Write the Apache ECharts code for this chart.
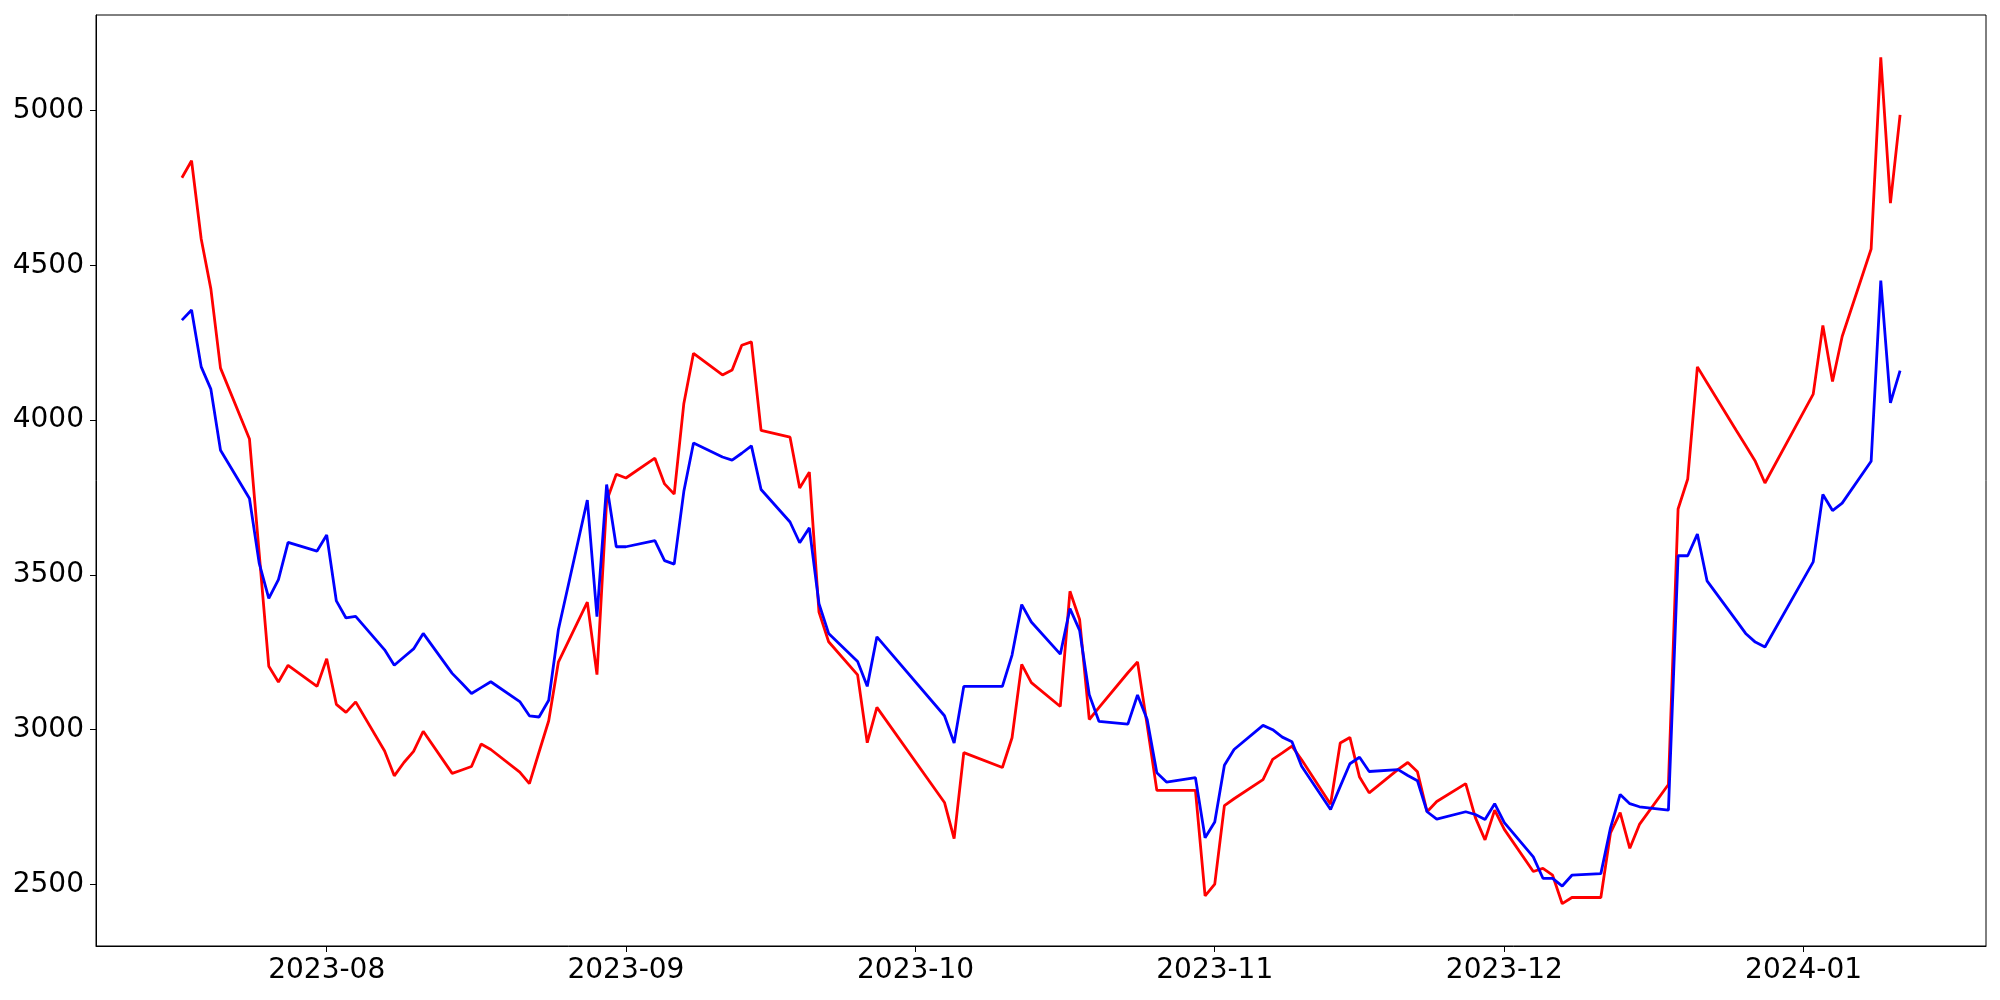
<!DOCTYPE html>
<html>
<head>
<meta charset="utf-8">
<script src="https://cdn.jsdelivr.net/npm/echarts@6/dist/echarts.min.js"></script>
<style>
  html, body { margin: 0; padding: 0; background: #fff; }
  #chart { width: 2000px; height: 1000px; }
</style>
</head>
<body>
<div id="chart"></div>
<script>
// ---- Data ----
const dates = [
  '2023-07-17','2023-07-18','2023-07-19','2023-07-20','2023-07-21','2023-07-24','2023-07-25','2023-07-26','2023-07-27','2023-07-28','2023-07-31',
  '2023-08-01','2023-08-02','2023-08-03','2023-08-04','2023-08-07','2023-08-08','2023-08-09','2023-08-10','2023-08-11','2023-08-14','2023-08-15',
  '2023-08-16','2023-08-17','2023-08-18','2023-08-21','2023-08-22','2023-08-23','2023-08-24','2023-08-25','2023-08-28','2023-08-29','2023-08-30','2023-08-31',
  '2023-09-01','2023-09-04','2023-09-05','2023-09-06','2023-09-07','2023-09-08','2023-09-11','2023-09-12','2023-09-13','2023-09-14','2023-09-15',
  '2023-09-18','2023-09-19','2023-09-20','2023-09-21','2023-09-22','2023-09-25','2023-09-26','2023-09-27',
  '2023-10-04','2023-10-05','2023-10-06','2023-10-10','2023-10-11','2023-10-12','2023-10-13','2023-10-16','2023-10-17','2023-10-18','2023-10-19','2023-10-20',
  '2023-10-23','2023-10-24','2023-10-25','2023-10-26','2023-10-27','2023-10-30','2023-10-31',
  '2023-11-01','2023-11-02','2023-11-03','2023-11-06','2023-11-07','2023-11-08','2023-11-09','2023-11-10','2023-11-13','2023-11-14','2023-11-15',
  '2023-11-16','2023-11-17','2023-11-20','2023-11-21','2023-11-22','2023-11-23','2023-11-24','2023-11-27','2023-11-28','2023-11-29','2023-11-30',
  '2023-12-01','2023-12-04','2023-12-05','2023-12-06','2023-12-07','2023-12-08','2023-12-11','2023-12-12','2023-12-13','2023-12-14','2023-12-15',
  '2023-12-18','2023-12-19','2023-12-20','2023-12-21','2023-12-22','2023-12-25','2023-12-26','2023-12-27','2023-12-28',
  '2024-01-02','2024-01-03','2024-01-04','2024-01-05','2024-01-08','2024-01-09','2024-01-10','2024-01-11'
];

const redValues = [
  4783,4838,4585,4424,4168,3939,3572,3205,3154,3208,3140,
  3229,3082,3056,3090,2931,2851,2894,2930,2995,2859,2870,
  2881,2954,2936,2863,2826,2928,3029,3218,3412,3178,3739,3825,
  3813,3877,3794,3761,4054,4216,4146,4162,4242,4253,3967,
  3945,3781,3832,3380,3284,3177,2958,3072,
  2765,2648,2926,2878,2974,3211,3152,3075,3447,3356,3033,3071,
  3184,3219,3014,2804,2804,2804,2463,
  2501,2755,2777,2839,2904,2925,2947,2903,2759,2957,2975,
  2847,2796,2872,2894,2864,2735,2768,2826,2716,2644,2740,
  2678,2542,2552,2530,2438,2458,2458,2667,2732,2617,2694,
  2823,3713,3810,4172,4121,3968,3918,3867,3797,
  4084,4306,4125,4270,4553,5172,4701,4986
];

const blueValues = [
  4323,4356,4172,4100,3903,3747,3539,3424,3485,3605,3577,
  3629,3416,3361,3366,3258,3208,3235,3261,3311,3182,3150,
  3117,3136,3155,3091,3045,3041,3095,3323,3742,3365,3792,3591,
  3591,3611,3546,3535,3770,3926,3881,3871,3893,3917,3776,
  3671,3604,3652,3407,3311,3220,3140,3300,
  3045,2957,3140,3140,3241,3404,3348,3244,3391,3321,3113,3027,
  3018,3112,3033,2861,2831,2845,2651,
  2702,2885,2936,3014,3000,2976,2961,2882,2742,2817,2890,
  2911,2865,2871,2852,2835,2735,2711,2735,2726,2710,2761,
  2700,2589,2520,2520,2495,2530,2535,2683,2791,2761,2751,
  2740,3562,3562,3632,3481,3354,3311,3283,3267,
  3542,3760,3708,3732,3867,4451,4056,4160
];

const monthTicks = ['2023-08-01','2023-09-01','2023-10-01','2023-11-01','2023-12-01','2024-01-01'];
const yTicks = [2500, 3000, 3500, 4000, 4500, 5000];

// ---- Build chart ----
function toTs(s) {
  const p = s.split('-').map(Number);
  return new Date(p[0], p[1] - 1, p[2]).getTime();
}
const xs = dates.map(toTs);
const xMinData = xs[0], xMaxData = xs[xs.length - 1];
const xPad = (xMaxData - xMinData) * 0.05;
const allY = redValues.concat(blueValues);
const yMinData = Math.min.apply(null, allY), yMaxData = Math.max.apply(null, allY);
const yPad = (yMaxData - yMinData) * 0.05;
const xTickVals = monthTicks.map(toTs);

const font = 'DejaVu Sans';
const chart = echarts.init(document.getElementById('chart'), null, { renderer: 'canvas' });
chart.setOption({
  animation: false,
  backgroundColor: '#ffffff',
  grid: {
    left: 96, right: 14, top: 15, bottom: 54,
    show: true, borderColor: '#000000', borderWidth: 1, backgroundColor: 'transparent'
  },
  xAxis: {
    type: 'value',
    min: xMinData - xPad,
    max: xMaxData + xPad,
    axisLine: { show: true, onZero: false, lineStyle: { color: '#000', width: 1 } },
    axisTick: { show: true, length: 6, lineStyle: { color: '#000', width: 1 }, customValues: xTickVals },
    axisLabel: {
      color: '#000', fontFamily: font, fontSize: 28, margin: 11,
      customValues: xTickVals,
      formatter: function (v) {
        const d = new Date(v);
        return d.getFullYear() + '-' + String(d.getMonth() + 1).padStart(2, '0');
      }
    },
    splitLine: { show: false }
  },
  yAxis: {
    type: 'value',
    min: yMinData - yPad,
    max: yMaxData + yPad,
    axisLine: { show: true, onZero: false, lineStyle: { color: '#000', width: 1 } },
    axisTick: { show: true, length: 6, lineStyle: { color: '#000', width: 1 }, customValues: yTicks },
    axisLabel: {
      color: '#000', fontFamily: font, fontSize: 28, margin: 12, customValues: yTicks,
      formatter: function (v) { return String(Math.round(v)); }
    },
    splitLine: { show: false }
  },
  series: [
    {
      type: 'line', name: 'red',
      data: xs.map((t, i) => [t, redValues[i]]),
      showSymbol: false, symbol: 'none',
      lineStyle: { color: '#ff0000', width: 2.8 },
      itemStyle: { color: '#ff0000' }
    },
    {
      type: 'line', name: 'blue',
      data: xs.map((t, i) => [t, blueValues[i]]),
      showSymbol: false, symbol: 'none',
      lineStyle: { color: '#0000ff', width: 2.8 },
      itemStyle: { color: '#0000ff' }
    }
  ]
});
</script>
</body>
</html>
